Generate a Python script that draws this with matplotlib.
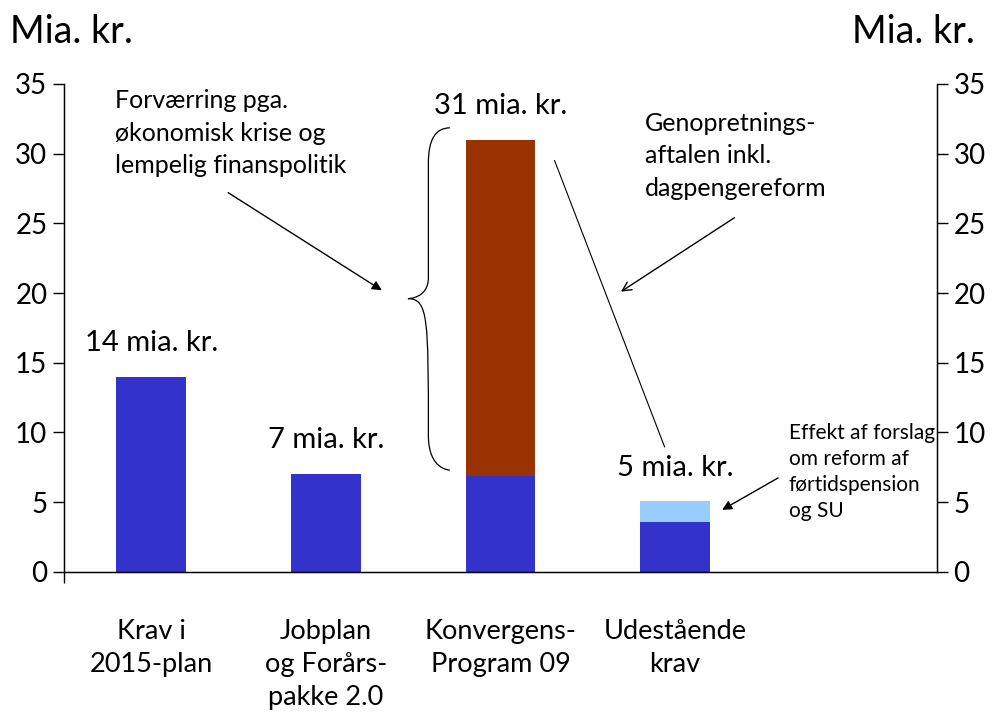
import numpy as np
import matplotlib
matplotlib.use("Agg")
import matplotlib.pyplot as plt
from matplotlib.path import Path
from matplotlib.patches import PathPatch

plt.rcParams["font.family"] = ["Lato", "DejaVu Sans"]

# ── data ─────────────────────────────────────────────────────────────────────
categories = ["Krav i\n2015-plan", "Jobplan\nog Forårs-\npakke 2.0",
              "Konvergens-\nProgram 09", "Udestående\nkrav", ""]
base     = [14.0, 7.0, 6.9, 3.6, 0.0]     # blue part
worsen   = [0.0, 0.0, 24.1, 0.0, 0.0]     # brown part
reform   = [0.0, 0.0, 0.0, 1.45, 0.0]     # light blue part
value_labels = ["14 mia. kr.", "7 mia. kr.", "31 mia. kr.", "5 mia. kr.", ""]

BLUE  = "#3333CC"
BROWN = "#993300"
LIGHT = "#99CCFF"

fig = plt.figure(figsize=(9.93, 7.14), dpi=100)
ax = fig.add_axes([0.0645, 0.199, 0.879, 0.6835])
x = np.arange(len(categories))
w = 0.4

ax.bar(x, base, width=w, color=BLUE, zorder=2)
ax.bar(x, worsen, width=w, bottom=base, color=BROWN, zorder=2)
ax.bar(x, reform, width=w, bottom=base, color=LIGHT, zorder=2)

ax.set_xlim(-0.5, len(categories) - 0.5)
ax.set_ylim(0, 35)
ax.set_yticks(range(0, 36, 5))
ax.tick_params(axis="y", labelsize=20, length=8, width=1, pad=4)
ax.set_xticks([-0.5])
ax.set_xticklabels([""])
ax.tick_params(axis="x", length=8, width=1, direction="out")
ax.spines["top"].set_visible(False)
for s in ["left", "right", "bottom"]:
    ax.spines[s].set_linewidth(1)

ax2 = ax.twinx()
ax2.set_ylim(0, 35)
ax2.set_yticks(range(0, 36, 5))
ax2.tick_params(axis="y", labelsize=20, length=8, width=1, pad=4)
ax2.spines["top"].set_visible(False)

# totals above bars
tops = np.array(base) + np.array(worsen) + np.array(reform)
for xi, t, lab in zip(x, tops, value_labels):
    if lab:
        ax.text(xi, t + 1.5, lab, ha="center", va="bottom", fontsize=21)

# category labels under axis
for xi, lab in zip(x, categories):
    ax.text(xi, -3.4, lab, ha="center", va="top", fontsize=19.5, linespacing=1.4)

# unit labels
fig.text(0.01, 0.955, "Mia. kr.", fontsize=27, ha="left", va="center")
fig.text(0.982, 0.955, "Mia. kr.", fontsize=27, ha="right", va="center")

# annotations
ax.text(-0.21, 34.6, "Forværring pga.\nøkonomisk krise og\nlempelig finanspolitik",
        fontsize=18, ha="left", va="top", linespacing=1.5)
ax.annotate("", xy=(1.32, 20.2), xytext=(0.44, 27.2),
            arrowprops=dict(arrowstyle="-|>", color="black", lw=1,
                            mutation_scale=14, shrinkA=0, shrinkB=0))

ax.text(2.83, 33.0, "Genopretnings-\naftalen inkl.\ndagpengereform",
        fontsize=18, ha="left", va="top", linespacing=1.5)
ax.annotate("", xy=(2.69, 20.1), xytext=(3.34, 25.4),
            arrowprops=dict(arrowstyle="->", color="black", lw=1,
                            mutation_scale=16, shrinkA=0, shrinkB=0))
ax.plot([2.31, 2.94], [29.5, 8.97], color="black", lw=0.8)

ax.text(3.65, 10.7, "Effekt af forslag\nom reform af\nførtidspension\nog SU",
        fontsize=15, ha="left", va="top", linespacing=1.38)
ax.annotate("", xy=(3.27, 4.45), xytext=(3.59, 6.74),
            arrowprops=dict(arrowstyle="-|>", color="black", lw=1,
                            mutation_scale=14, shrinkA=0, shrinkB=0))

# curly brace next to Konvergens bar
xv, xt, xe = 1.587, 1.47, 1.71
yt, ym, yb = 31.85, 19.6, 7.3
verts = [(xe, yt), (xv, yt), (xv, yt - 2.5),
         (xv, ym + 1.5),
         (xv, ym), (xt, ym), (xt, ym),
         (xt, ym), (xv, ym), (xv, ym - 1.5),
         (xv, yb + 2.5),
         (xv, yb), (xe, yb), (xe, yb)]
codes = [Path.MOVETO, Path.CURVE3, Path.CURVE3,
         Path.LINETO,
         Path.CURVE4, Path.CURVE4, Path.CURVE4,
         Path.MOVETO, Path.CURVE4, Path.CURVE4,
         Path.LINETO,
         Path.CURVE4, Path.CURVE4, Path.CURVE4]
ax.add_patch(PathPatch(Path(verts, codes), fill=False, lw=0.9, color="black",
                       clip_on=False))

plt.savefig("out.png", dpi=100)
plt.close()
